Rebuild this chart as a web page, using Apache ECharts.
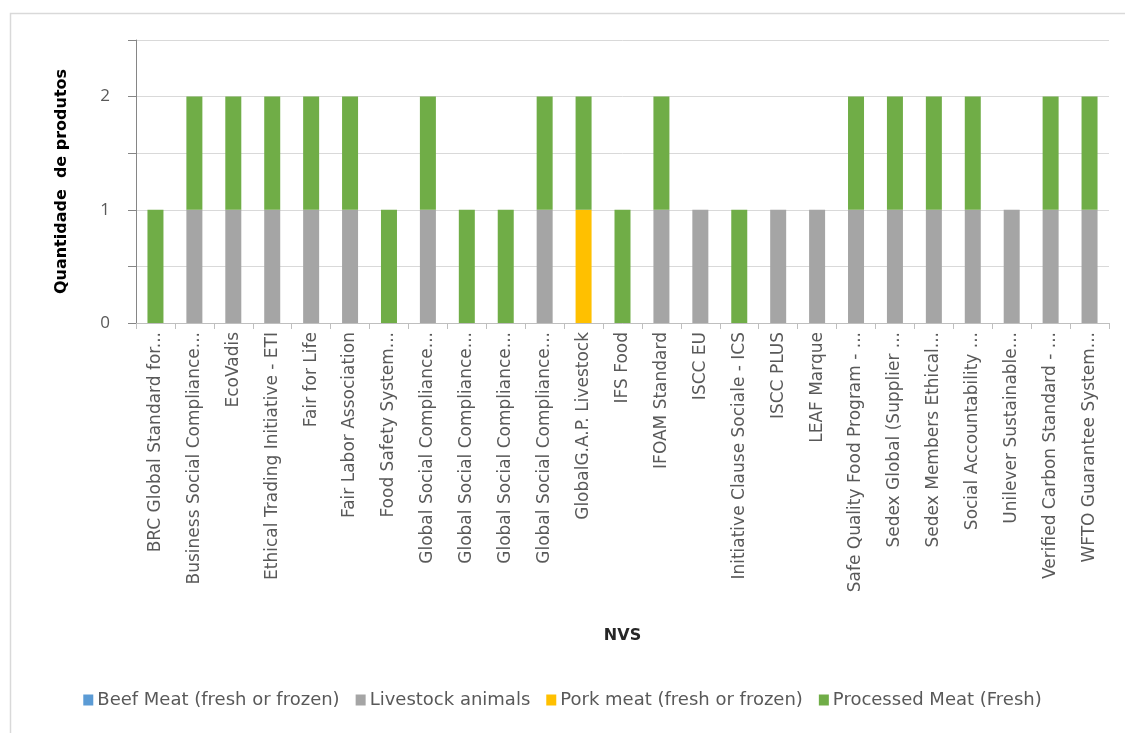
<!DOCTYPE html>
<html>
<head>
<meta charset="utf-8">
<script src="https://cdn.jsdelivr.net/npm/echarts@6/dist/echarts.min.js"></script>
<style>
  html, body { margin: 0; padding: 0; background: #ffffff; }
  #chart { width: 1125px; height: 733px; }
</style>
</head>
<body>
<div id="chart"></div>
<script>
// Certification standards (NVS) as printed on the category axis
const categories = [
  'BRC Global Standard for...',
  'Business Social Compliance...',
  'EcoVadis',
  'Ethical Trading Initiative - ETI',
  'Fair for Life',
  'Fair Labor Association',
  'Food Safety System...',
  'Global Social Compliance...',
  'Global Social Compliance...',
  'Global Social Compliance...',
  'Global Social Compliance...',
  'GlobalG.A.P. Livestock',
  'IFS Food',
  'IFOAM Standard',
  'ISCC EU',
  'Initiative Clause Sociale - ICS',
  'ISCC PLUS',
  'LEAF Marque',
  'Safe Quality Food Program - ...',
  'Sedex Global (Supplier ...',
  'Sedex Members Ethical...',
  'Social Accountability ...',
  'Unilever Sustainable...',
  'Verified Carbon Standard - ...',
  'WFTO Guarantee System...'
];

// Number of products per standard, by product type
const beefMeat      = [0,0,0,0,0,0,0,0,0,0,0,0,0,0,0,0,0,0,0,0,0,0,0,0,0];
const livestock     = [0,1,1,1,1,1,0,1,0,0,1,0,0,1,1,0,1,1,1,1,1,1,1,1,1];
const porkMeat      = [0,0,0,0,0,0,0,0,0,0,0,1,0,0,0,0,0,0,0,0,0,0,0,0,0];
const processedMeat = [1,1,1,1,1,1,1,1,1,1,1,1,1,1,0,1,0,0,1,1,1,1,0,1,1];

const seriesNames = [
  'Beef Meat (fresh or frozen)',
  'Livestock animals',
  'Pork meat (fresh or frozen)',
  'Processed Meat (Fresh)'
];
const seriesColors = ['#5B9BD5', '#A5A5A5', '#FFC000', '#70AD47'];
const seriesData = [beefMeat, livestock, porkMeat, processedMeat];

const FONT = '"DejaVu Sans", "Open Sans", sans-serif';
const NUM_FONT = '"Open Sans", "Noto Sans", sans-serif';

const chart = echarts.init(document.getElementById('chart'), null, { renderer: 'canvas' });

chart.setOption({
  animation: false,
  backgroundColor: '#ffffff',
  textStyle: { fontFamily: FONT },
  graphic: [{
    type: 'rect',
    shape: { x: 10.5, y: 13.5, width: 1200, height: 800 },
    style: { fill: 'none', stroke: '#d9d9d9', lineWidth: 1.5 },
    silent: true,
    z: -1
  }],
  grid: { left: 136, right: 16, top: 40, bottom: 410, containLabel: false },
  legend: {
    bottom: 19,
    left: 'center',
    itemWidth: 10,
    itemHeight: 11,
    itemGap: 16,
    icon: 'rect',
    textStyle: { color: '#595959', fontSize: 18, fontFamily: FONT, padding: [0, 0, 0, -1] },
    data: seriesNames
  },
  xAxis: {
    type: 'category',
    data: categories,
    name: 'NVS',
    nameLocation: 'middle',
    nameGap: 305,
    nameTextStyle: { color: '#262626', fontWeight: 'bold', fontSize: 16, fontFamily: FONT },
    axisLine: { lineStyle: { color: '#bfbfbf', width: 1 } },
    axisTick: { show: true, length: 6, lineStyle: { color: '#bfbfbf' } },
    axisLabel: {
      rotate: 90,
      interval: 0,
      margin: 9,
      color: '#595959',
      fontSize: 17,
      fontFamily: FONT
    }
  },
  yAxis: {
    type: 'value',
    min: 0,
    max: 2.5,
    interval: 0.5,
    name: 'Quantidade  de produtos',
    nameLocation: 'middle',
    nameGap: 66,
    nameTextStyle: { color: '#000000', fontWeight: 'bold', fontSize: 16, fontFamily: FONT },
    axisLine: { show: true, lineStyle: { color: '#868686', width: 1 } },
    axisTick: { show: true, length: 8, lineStyle: { color: '#868686' } },
    axisLabel: {
      color: '#595959',
      fontSize: 17,
      margin: 26,
      fontFamily: NUM_FONT,
      formatter: v => (v % 1 === 0 ? String(v) : '')
    },
    splitLine: { show: true, lineStyle: { color: '#d9d9d9', width: 1 } }
  },
  series: seriesNames.map((name, i) => ({
    name,
    type: 'bar',
    stack: 'total',
    barWidth: 16,
    itemStyle: { color: seriesColors[i] },
    data: seriesData[i]
  }))
});
</script>
</body>
</html>
